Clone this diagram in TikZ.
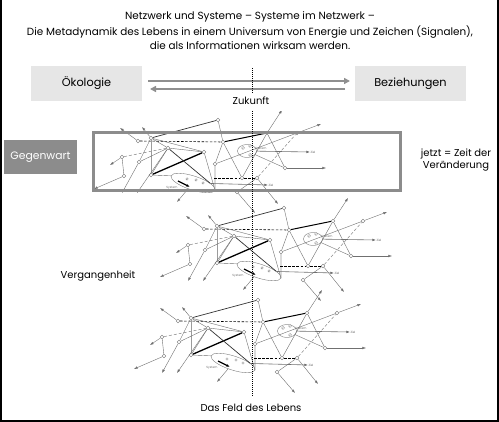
\documentclass[tikz,border=0pt]{standalone}
\usepackage{fontspec}
\setmainfont{Poppins}
\usetikzlibrary{shapes.geometric,arrows.meta}
\definecolor{netgray}{HTML}{707070}
\definecolor{boxgray}{HTML}{E6E6E6}
\definecolor{midgray}{HTML}{8C8C8C}
\definecolor{arrgray}{HTML}{8F8F8F}
\newcommand\netunit{%
  \node[nd] (A) at (191,318) {};
  \node[nd] (B) at (178,321) {};
  \node[nd] (C) at (208,328) {};
  \node[nd] (D) at (179,342) {};
  \node[nd] (E) at (162,337) {};
  \node[nd] (F) at (164,356) {};
  \node[nd] (G) at (191,355) {};
  \node[nd] (H) at (244,332) {};
  \node[nd] (I) at (258,300) {};
  \node[nd] (J) at (263,322) {};
  \node[nd] (K) at (255,344) {};
  \node[nd] (L) at (307,313) {};
  \node[nd] (M) at (337,313) {};
  \node[nd] (N) at (325,348) {};
  \node[nd] (O) at (282,358) {};
  \node[nd] (P) at (297,358) {};
  \node[nd] (Q) at (277,372) {};
  \node[sys,minimum width=46pt,minimum height=14pt,rotate=-18] (S1) at (233,363) {};
  \node[sys,minimum width=19pt,minimum height=13pt] (S2) at (287,331) {};
  \node[nd,minimum size=3pt] (s1a) at (283,328) {};
  \node[nd,minimum size=3pt] (s1b) at (290,326) {};
  \node[nd,minimum size=3pt] (s1c) at (290,335) {};
  \node[nd,minimum size=2.5pt] (s2a) at (227,359) {};
  \node[nd,minimum size=2.5pt] (s2b) at (236,360) {};
  \node[nd,minimum size=2.5pt] (s2c) at (243,363) {};
  \node[tinytxt] (t1) at (212,368) {System};
  \node[tinytxt] (t2) at (301,329) {System};
  \coordinate (aA) at (182,307);
  \coordinate (aB) at (160,308);
  \coordinate (aC) at (177,373);
  \coordinate (aD) at (162,373);
  \coordinate (aE) at (150,345);
  \coordinate (aF) at (134,369);
  \coordinate (aL) at (322,290);
  \coordinate (aM) at (361,304);
  \coordinate (aN) at (366,348);
  \coordinate (aP) at (318,384);
  \coordinate (aQ) at (295,393);
  \coordinate (aS) at (217,382);
  \coordinate (bA) at (218,361);
  \coordinate (bB) at (230,367);
  \coordinate (dS) at (254,358);
  \coordinate (zA) at (308,365);
  \coordinate (zB) at (350,332);
  \node[tinytxt,anchor=west] (z1) at (zA) {Ziel};
  \node[tinytxt,anchor=west] (z2) at (zB) {Ziel};
  \draw[ln] (E) -- (F);
  \draw[ln,arr] (E) -- (aE);
  \draw[ln,arr] (F) -- (aF);
  \draw[gdsh] (E) -- (C);
  \draw[ln,arr] (B) -- (aB);
  \draw[ln,arr] (A) -- (aA);
  \draw[dsh] (B) -- (J);
  \draw[ln,line width=0.8pt,draw=netgray!70] (A) -- (G);
  \draw[ln] (A) -- (C);
  \draw[ln] (A) -- (D);
  \draw[ln] (D) -- (C);
  \draw[ln] (C) -- (G);
  \draw[ln] (A) -- (H);
  \draw[ln] (C) -- (H);
  \draw[thk] (G) -- (H);
  \draw[dk] (A) -- (I);
  \draw[ln,arr] (D) -- (aD);
  \draw[ln,arr] (C) -- (aC);
  \draw[ln] (G) -- (S1.west);
  \draw[dk] (C) -- (S1.north east);
  \draw[ln] (H) -- (S1.east);
  \draw[ln] (I) -- (J);
  \draw[ln] (J) -- (K);
  \draw[ln,line width=0.8pt,draw=netgray!70] (K) -- (S1.east);
  \draw[thk,line width=1pt] (J) -- (L);
  \draw[ln] (L) -- (N);
  \draw[ln] (L) -- (O);
  \draw[ln] (J) -- (O);
  \draw[ln] (K) -- (M);
  \draw[ln,arr] (M) -- (aM);
  \draw[ln,arr] (L) -- (aL);
  \draw[ln,arr] (N) -- (aN);
  \draw[ln] (S2) -- (N);
  \draw[dsh] (dS) -- (O);
  \draw[dsh] (O) -- (P);
  \draw[gdsh] (P) -- (M);
  \draw[ln,arr] (P) -- (aP);
  \draw[ln] (Q) -- (P);
  \draw[ln,arr] (Q) -- (aQ);
  \draw[ln,arr,line width=0.6pt] (S1) -- (zA);
  \draw[ln,arr] (S1) -- (aS);
  \draw[ln,arr,line width=0.6pt] (S2) -- (zB);
  \draw[thk,arr] (bA) -- (bB);
}
\begin{document}
\begin{tikzpicture}[x=1pt,y=-1pt,
  nd/.style={circle,draw=netgray,fill=white,inner sep=0pt,minimum size=3.8pt,line width=0.35pt},
  sys/.style={ellipse,draw=netgray,line width=0.35pt,inner sep=0pt},
  ln/.style={draw=netgray,line width=0.4pt},
  dk/.style={draw=black!80,line width=0.7pt},
  thk/.style={draw=black,line width=1.3pt},
  dsh/.style={draw=black,line width=0.6pt,dash pattern=on 2.5pt off 1.6pt},
  gdsh/.style={draw=netgray,line width=0.4pt,dash pattern=on 3pt off 2pt},
  arr/.style={-{Latex[length=3.6pt,width=2.6pt]}},
  lbl/.style={font=\fontsize{10}{12}\selectfont,inner sep=0pt},
  ttl/.style={font=\fontsize{10.4}{12}\selectfont,inner sep=0pt},
  big/.style={font=\fontsize{11.3}{13}\selectfont},
  tinytxt/.style={font=\fontsize{3}{3}\selectfont,text=netgray,inner sep=0.3pt},
  box/.style={fill=boxgray,inner sep=0pt,minimum width=111pt,minimum height=35pt},
  bigarr/.style={draw=arrgray,line width=2pt,-{Triangle[length=6pt,width=6pt]}},
]
\useasboundingbox (0,0) rectangle (499,422);
\fill[white] (0,0) rectangle (499,422);
% network
\begin{scope}[name prefix=b-]\netunit\end{scope}
\begin{scope}[shift={(26,-92)},name prefix=m-]\netunit\end{scope}
\begin{scope}[shift={(-40,-180)},name prefix=t-]\netunit\end{scope}
% white bar under Zukunft
\fill[white] (200,92) rectangle (300,111);
% frame
\draw[line width=2pt] (1,0) -- (1,421) -- (498,421) -- (498,0);
% title
\node[ttl] (title1) at (250,17) {Netzwerk und Systeme – Systeme im Netzwerk –};
\node[ttl] (title2) at (250,32) {Die Metadynamik des Lebens in einem Universum von Energie und Zeichen (Signalen),};
\node[ttl] (title3) at (250,46) {die als Informationen wirksam werden.};
% top boxes
\node[box,lbl,big] (oek) at (86.5,83.5) {Ökologie};
\node[box,lbl,big] (bez) at (410.5,83.5) {Beziehungen};
\coordinate (r1) at (148,81);
\coordinate (r2) at (350,81);
\coordinate (l1) at (345,89);
\coordinate (l2) at (150,89);
\draw[bigarr] (r1) -- (r2);
\draw[bigarr] (l1) -- (l2);
\node[lbl] (zuk) at (251,101) {Zukunft};
% present
\draw[draw=midgray,line width=3pt] (93,133) rectangle (400,191);
\node[fill=midgray,text=white,lbl,font=\fontsize{10.8}{13}\selectfont,minimum width=73pt,minimum height=34pt] (geg) at (40.5,157) {Gegenwart};
\node[lbl,align=center] (jetzt) at (456,160) {jetzt = Zeit der\\Veränderung};
\node[lbl] (verg) at (98,276) {Vergangenheit};
\node[lbl] (feld) at (251,408) {Das Feld des Lebens};
% time axis
\coordinate (ax1) at (252,68);
\coordinate (ax2) at (252,94);
\coordinate (ax3) at (252,111);
\coordinate (ax4) at (252,396);
\draw[line width=0.8pt,dash pattern=on 1pt off 1pt] (ax1) -- (ax2);
\draw[line width=0.8pt,dash pattern=on 1pt off 1pt] (ax3) -- (ax4);
\end{tikzpicture}
\end{document}
